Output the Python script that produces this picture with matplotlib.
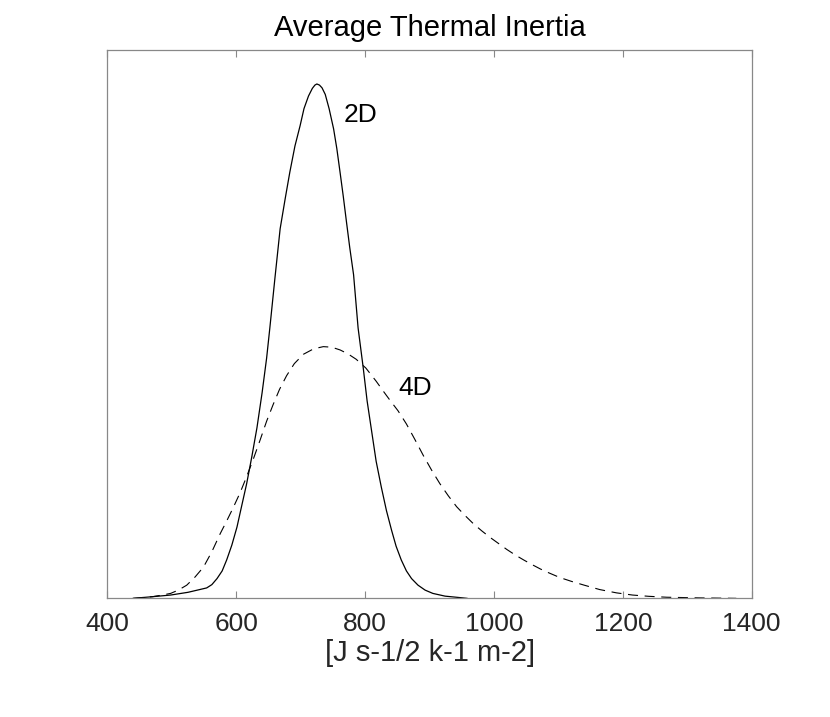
import matplotlib
matplotlib.use("Agg")
import matplotlib.pyplot as plt

# values (x in J s-1/2 k-1 m-2, y normalised density)
x_2d = [440, 470, 498, 525, 554, 562, 570, 578, 585, 593, 601, 608, 616, 624,
        632, 640, 647, 652, 660, 668, 676, 683, 691, 699, 705, 712, 718, 722,
        725, 729, 733, 738, 744, 751, 756, 761, 766, 771, 776, 782, 789, 797,
        803, 810, 817, 825, 833, 841, 848, 856, 864, 872, 882, 893, 905, 924,
        950, 958]
y_2d = [0.0, 0.003, 0.006, 0.011, 0.019, 0.025, 0.036, 0.050, 0.070, 0.097,
        0.130, 0.167, 0.209, 0.258, 0.311, 0.375, 0.438, 0.493, 0.585, 0.674,
        0.730, 0.777, 0.825, 0.862, 0.893, 0.916, 0.930, 0.936, 0.938, 0.936,
        0.931, 0.919, 0.893, 0.856, 0.820, 0.777, 0.733, 0.686, 0.640, 0.590,
        0.493, 0.420, 0.360, 0.305, 0.250, 0.203, 0.160, 0.124, 0.095, 0.070,
        0.050, 0.036, 0.024, 0.015, 0.009, 0.004, 0.001, 0.0]

x_4d = [440, 470, 485, 498, 510, 523, 536, 549, 562, 575, 585, 595, 606, 616,
        627, 637, 647, 657, 667, 678, 690, 704, 720, 735, 748, 761, 773, 786,
        801, 817, 828, 838, 851, 864, 877, 890, 903, 916, 929, 942, 955, 968,
        981, 994, 1007, 1020, 1033, 1046, 1059, 1072, 1086, 1102, 1120, 1140,
        1164, 1190, 1215, 1240, 1268, 1320, 1376]
y_4d = [0.0, 0.003, 0.006, 0.009, 0.015, 0.024, 0.039, 0.057, 0.085, 0.118,
        0.141, 0.165, 0.193, 0.222, 0.256, 0.289, 0.323, 0.353, 0.381, 0.406,
        0.428, 0.445, 0.455, 0.459, 0.458, 0.453, 0.446, 0.436, 0.420, 0.396,
        0.378, 0.362, 0.342, 0.318, 0.290, 0.261, 0.234, 0.209, 0.187, 0.167,
        0.151, 0.136, 0.123, 0.111, 0.100, 0.089, 0.079, 0.070, 0.0615, 0.0535,
        0.046, 0.038, 0.031, 0.024, 0.016, 0.010, 0.006, 0.0037, 0.002, 0.0008,
        0.0]

x_ticks = [400, 600, 800, 1000, 1200, 1400]

plt.rcParams["font.family"] = ["Liberation Sans", "DejaVu Sans"]

fig = plt.figure(figsize=(8.3, 7.17), dpi=100)
ax = fig.add_axes([0.1295, 0.1655, 0.7762, 0.7648])

ax.plot(x_2d, y_2d, color="black", lw=0.9)
ax.plot(x_4d, y_4d, color="black", lw=0.8, linestyle=(0, (9, 6)))

ax.text(766, 0.869, "2D", fontsize=19, color="black", ha="left", va="baseline")
ax.text(852, 0.371, "4D", fontsize=19, color="black", ha="left", va="baseline")

ax.set_xlim(400, 1400)
ax.set_ylim(0, 1)
ax.set_xticks(x_ticks)
ax.set_yticks([])
ax.tick_params(axis="x", direction="in", length=5, width=0.8, color="#888888",
               labelsize=19, labelcolor="#262626", top=True, pad=10)
for sp in ax.spines.values():
    sp.set_color("#888888")
    sp.set_linewidth(0.9)

ax.set_title("Average Thermal Inertia", fontsize=21, color="black", pad=10)
ax.set_xlabel("[J s-1/2 k-1 m-2]", fontsize=21, color="#262626", labelpad=2)

fig.savefig("out.png", dpi=100)
